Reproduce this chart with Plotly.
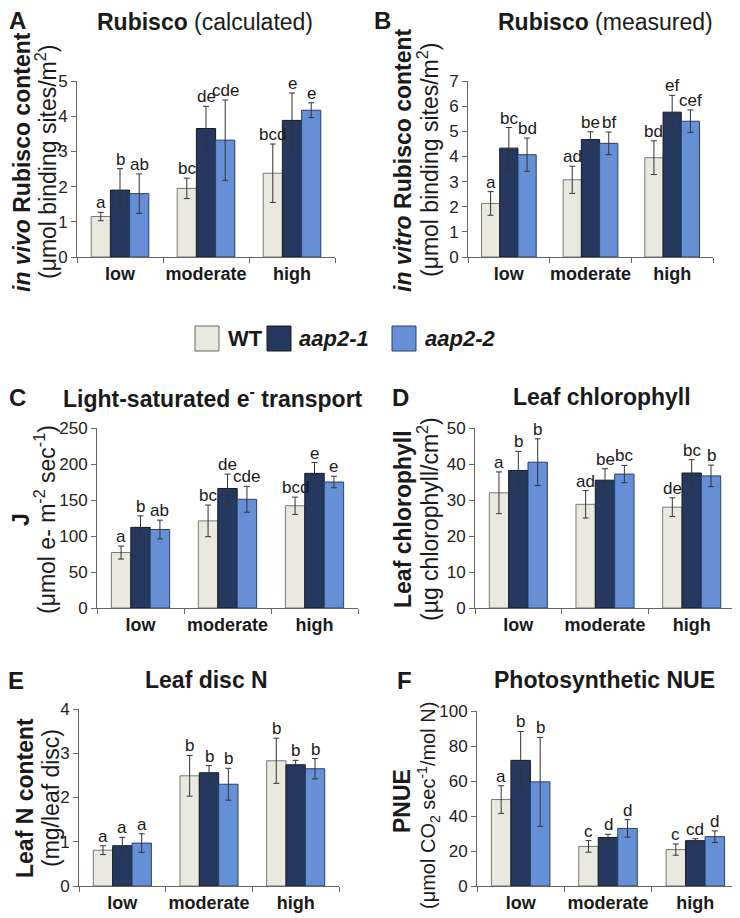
import plotly.graph_objects as go

# ---------------- data ----------------
categories = ["low", "moderate", "high"]
series_names = ["WT", "aap2-1", "aap2-2"]

# A: in vivo Rubisco (calculated)
a_wt = [1.15, 1.95, 2.38]
a_wt_err = [0.12, 0.29, 0.83]
a_m1 = [1.90, 3.65, 3.88]
a_m1_err = [0.61, 0.63, 0.78]
a_m2 = [1.80, 3.32, 4.17]
a_m2_err = [0.56, 1.14, 0.21]
a_letters = [["a", "bc", "bcd"], ["b", "de", "e"], ["ab", "cde", "e"]]

# B: in vitro Rubisco (measured)
b_wt = [2.13, 3.07, 3.95]
b_wt_err = [0.47, 0.54, 0.67]
b_m1 = [4.33, 4.67, 5.76]
b_m1_err = [0.82, 0.31, 0.67]
b_m2 = [4.07, 4.52, 5.40]
b_m2_err = [0.66, 0.45, 0.45]
b_letters = [["a", "ad", "bd"], ["bc", "be", "ef"], ["bd", "bf", "cef"]]

# C: J
c_wt = [77, 121, 142]
c_wt_err = [9, 22, 12]
c_m1 = [112, 166, 187]
c_m1_err = [16, 20, 15]
c_m2 = [109, 151, 175]
c_m2_err = [13, 18, 8]
c_letters = [["a", "bc", "bcd"], ["b", "de", "e"], ["ab", "cde", "e"]]

# D: leaf chlorophyll
d_wt = [32.0, 28.8, 28.0]
d_wt_err = [5.8, 3.8, 2.6]
d_m1 = [38.2, 35.5, 37.5]
d_m1_err = [5.3, 3.2, 3.7]
d_m2 = [40.5, 37.2, 36.7]
d_m2_err = [6.5, 2.4, 3.0]
d_letters = [["a", "ad", "de"], ["b", "be", "bc"], ["b", "bc", "b"]]

# E: leaf disc N
e_wt = [0.81, 2.49, 2.83]
e_wt_err = [0.10, 0.46, 0.51]
e_m1 = [0.91, 2.56, 2.74]
e_m1_err = [0.19, 0.16, 0.10]
e_m2 = [0.97, 2.30, 2.65]
e_m2_err = [0.21, 0.36, 0.23]
e_letters = [["a", "b", "b"], ["a", "b", "b"], ["a", "b", "b"]]

# F: PNUE
f_wt = [49.4, 22.6, 20.8]
f_wt_err = [7.9, 3.3, 3.2]
f_m1 = [71.8, 27.7, 25.9]
f_m1_err = [16.5, 1.8, 1.1]
f_m2 = [59.5, 32.9, 28.2]
f_m2_err = [25.4, 5.0, 3.3]
f_letters = [["a", "c", "c"], ["b", "d", "cd"], ["b", "d", "d"]]

# ---------------- style ----------------
PAGE_OFF = 8                      # browser body margin
W, H = 740 - PAGE_OFF, 918 - PAGE_OFF
FONT = "Liberation Sans, Arial, sans-serif"
TXT = "#1a1a1a"
fills = ["#EAE9E0", "#253960", "#6690D6"]
outlines = ["#777777", "#1a1a1a", "#2a3f6a"]
BARGAP = 0.33

panels = [
    dict(letter="A", title="<b>Rubisco</b> (calculated)",
         y1="<b><i>in vivo</i> Rubisco content</b>", y2="(μmol binding sites/m<sup>2</sup>)",
         data=[(a_wt, a_wt_err), (a_m1, a_m1_err), (a_m2, a_m2_err)], letters=a_letters,
         rng=[0, 5], dtick=1, box=(77, 335, 81, 257), ytx=(22, 46), ycy=(162, 162), y2size=23,
         ttl=(205, 22), lt=(17, 21)),
    dict(letter="B", title="<b>Rubisco</b> (measured)",
         y1="<b><i>in vitro</i> Rubisco content</b>", y2="(μmol binding sites/m<sup>2</sup>)",
         data=[(b_wt, b_wt_err), (b_m1, b_m1_err), (b_m2, b_m2_err)], letters=b_letters,
         rng=[0, 7], dtick=1, box=(468, 713, 81, 257), ytx=(403, 428), ycy=(160, 160), y2size=23,
         ttl=(605, 22), lt=(382, 21)),
    dict(letter="C", title="<b>Light-saturated e<sup>-</sup> transport</b>",
         y1="<b>J</b>", y2="(μmol e- m<sup>-2</sup> sec<sup>-1</sup>)",
         data=[(c_wt, c_wt_err), (c_m1, c_m1_err), (c_m2, c_m2_err)], letters=c_letters,
         rng=[0, 250], dtick=50, box=(97, 358, 428, 608), ytx=(21, 45), ycy=(520, 520), y2size=23,
         ttl=(213, 397), lt=(17, 397)),
    dict(letter="D", title="<b>Leaf chlorophyll</b>",
         y1="<b>Leaf chlorophyll</b>", y2="(µg chlorophyll/cm<sup>2</sup>)",
         data=[(d_wt, d_wt_err), (d_m1, d_m1_err), (d_m2, d_m2_err)], letters=d_letters,
         rng=[0, 50], dtick=10, box=(475, 735, 428, 608), ytx=(403, 428), ycy=(519, 519), y2size=23,
         ttl=(602, 397), lt=(400, 397)),
    dict(letter="E", title="<b>Leaf disc N</b>",
         y1="<b>Leaf N content</b>", y2="(mg/leaf disc)",
         data=[(e_wt, e_wt_err), (e_m1, e_m1_err), (e_m2, e_m2_err)], letters=e_letters,
         rng=[0, 4], dtick=1, box=(79, 339, 709, 886), ytx=(25, 51), ycy=(798, 798), y2size=23,
         ttl=(206, 680), lt=(16, 680)),
    dict(letter="F", title="<b>Photosynthetic NUE</b>",
         y1="<b>PNUE</b>", y2="(μmol CO<sub>2</sub> sec<sup>-1</sup>/mol N)",
         data=[(f_wt, f_wt_err), (f_m1, f_m1_err), (f_m2, f_m2_err)], letters=f_letters,
         rng=[0, 100], dtick=20, box=(477, 739, 711, 886), ytx=(402, 428), ycy=(801, 806), y2size=20,
         ttl=(604, 680), lt=(404, 680)),
]

fig = go.Figure()
annotations = []
shapes = []
bw = (1 - BARGAP) / 3


def px(x):
    return (x - PAGE_OFF) / W


def py(y):
    return 1 - (y - PAGE_OFF) / H


def paper_text(x, y, text, size, angle=0, anchor="center"):
    return dict(x=px(x), y=py(y), xref="paper", yref="paper", text=text,
                textangle=angle, showarrow=False, xanchor=anchor, yanchor="middle",
                font=dict(family=FONT, size=size, color=TXT))


for k, p in enumerate(panels):
    n = k + 1
    xa = "x" if n == 1 else f"x{n}"
    ya = "y" if n == 1 else f"y{n}"
    for s, (vals, errs) in enumerate(p["data"]):
        fig.add_trace(go.Bar(
            x=categories, y=vals, name=series_names[s], showlegend=False,
            marker=dict(color=fills[s], line=dict(color=outlines[s], width=1)),
            error_y=dict(type="data", array=errs, visible=True, color="#333333",
                         thickness=1, width=3),
            xaxis=xa, yaxis=ya,
        ))
        for ci, cat in enumerate(categories):
            annotations.append(dict(
                x=ci + (s - 1) * bw, y=vals[ci] + errs[ci], xref=xa, yref=ya,
                text=p["letters"][s][ci], showarrow=False, xanchor="center",
                yanchor="bottom", yshift=-2,
                font=dict(family=FONT, size=17, color=TXT),
            ))
    x0, x1, y0, y1 = p["box"]
    lay_x = "xaxis" if n == 1 else f"xaxis{n}"
    lay_y = "yaxis" if n == 1 else f"yaxis{n}"
    fig.layout[lay_x] = dict(
        domain=[px(x0), min(1.0, px(x1))], anchor=ya, type="category", range=[-0.5, 2.5],
        showline=True, linecolor="#666666", linewidth=1, ticks="outside",
        tickson="boundaries", ticklen=5, tickcolor="#666666", showgrid=False,
        tickangle=0, automargin=False,
        tickvals=categories, ticktext=["<b>" + c + "</b>" for c in categories],
        tickfont=dict(family=FONT, size=18, color=TXT),
        fixedrange=True,
    )
    fig.layout[lay_y] = dict(
        domain=[py(y1), py(y0)], anchor=xa, range=p["rng"], dtick=p["dtick"],
        showline=True, linecolor="#666666", linewidth=1, ticks="outside",
        ticklen=5, tickcolor="#666666", showgrid=False, zeroline=False,
        automargin=False,
        tickfont=dict(family=FONT, size=17, color="#222222"), fixedrange=True,
    )
    annotations.append(paper_text(p["ytx"][0], p["ycy"][0], p["y1"], 23, angle=-90))
    annotations.append(paper_text(p["ytx"][1], p["ycy"][1], p["y2"], p["y2size"], angle=-90))
    annotations.append(paper_text(p["ttl"][0], p["ttl"][1], p["title"], 23))
    annotations.append(paper_text(p["lt"][0], p["lt"][1], "<b>" + p["letter"] + "</b>", 24))

# custom legend (large swatches)
leg_items = [(195, 226, "<b>WT</b>"), (267, 297, "<b><i>aap2-1</i></b>"), (392, 423, "<b><i>aap2-2</i></b>")]
for s, (bx, tx, label) in enumerate(leg_items):
    shapes.append(dict(type="rect", xref="paper", yref="paper",
                       x0=px(bx), x1=px(bx + 24), y0=py(351), y1=py(326),
                       fillcolor=fills[s], line=dict(color=outlines[s] if s else "#666666", width=1)))
    annotations.append(paper_text(tx, 338, label, 22, anchor="left"))

fig.update_layout(
    width=W, height=H, margin=dict(l=0, r=0, t=0, b=0, autoexpand=False),
    paper_bgcolor="white", plot_bgcolor="white",
    barmode="group", bargap=BARGAP, bargroupgap=0,
    annotations=annotations, shapes=shapes, showlegend=False,
    font=dict(family=FONT, color=TXT),
)

fig.write_html("out.html")
